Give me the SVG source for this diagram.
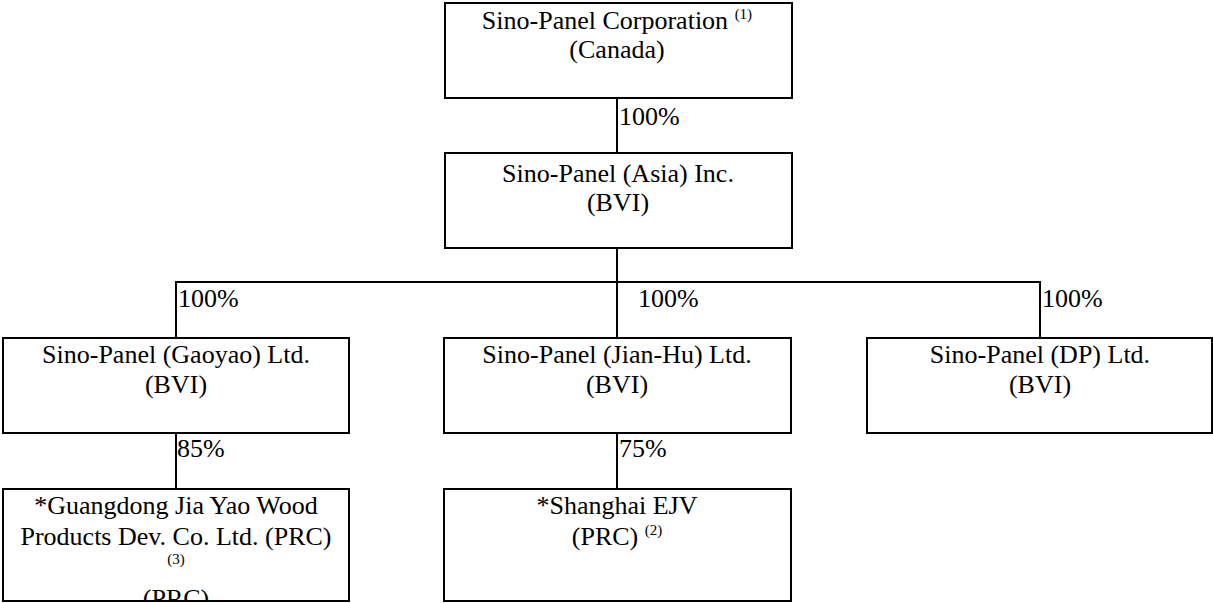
<svg xmlns="http://www.w3.org/2000/svg" width="1213" height="603" viewBox="0 0 1213 603">
<style>
.box{fill:#fff;stroke:#000;stroke-width:2}
.t{font-family:"Liberation Serif","Times New Roman",serif;font-size:26px;fill:#000;text-anchor:middle}
.p{font-family:"Liberation Serif","Times New Roman",serif;font-size:26px;fill:#000}
.sup{font-size:15px}
.c{stroke:#000;stroke-width:2;fill:none}
</style>
<defs>
<clipPath id="clipG"><rect x="3" y="489" width="346" height="111"/></clipPath>
</defs>
<rect width="1213" height="603" fill="#fff"/>
<g id="connectors">
<line class="c" x1="617" y1="98" x2="617" y2="153"/>
<line class="c" x1="617" y1="248" x2="617" y2="338"/>
<polyline class="c" points="176,338 176,282 1040,282 1040,338"/>
<line class="c" x1="176" y1="433" x2="176" y2="489"/>
<line class="c" x1="617" y1="433" x2="617" y2="489"/>
<text class="p" x="619" y="125">100%</text>
<text class="p" x="178" y="307">100%</text>
<text class="p" x="638" y="307">100%</text>
<text class="p" x="1042" y="307">100%</text>
<text class="p" x="177" y="457">85%</text>
<text class="p" x="619" y="457">75%</text>
</g>
<g id="node-canada">
<rect class="box" x="445" y="3" width="347" height="95"/>
<text class="t" x="617" y="29">Sino-Panel Corporation <tspan class="sup" dy="-10">(1)</tspan></text>
<text class="t" x="617" y="58">(Canada)</text>
</g>
<g id="node-asia">
<rect class="box" x="445" y="153" width="347" height="95"/>
<text class="t" x="618" y="182">Sino-Panel (Asia) Inc.</text>
<text class="t" x="618" y="211">(BVI)</text>
</g>
<g id="node-gaoyao">
<rect class="box" x="3" y="338" width="346" height="95"/>
<text class="t" x="176" y="363">Sino-Panel (Gaoyao) Ltd.</text>
<text class="t" x="176" y="393">(BVI)</text>
</g>
<g id="node-jianhu">
<rect class="box" x="444" y="338" width="347" height="95"/>
<text class="t" x="617" y="363">Sino-Panel (Jian-Hu) Ltd.</text>
<text class="t" x="617" y="393">(BVI)</text>
</g>
<g id="node-dp">
<rect class="box" x="867" y="338" width="345" height="95"/>
<text class="t" x="1040" y="363">Sino-Panel (DP) Ltd.</text>
<text class="t" x="1040" y="393">(BVI)</text>
</g>
<g id="node-guangdong">
<rect class="box" x="3" y="489" width="346" height="112"/>
<g clip-path="url(#clipG)">
<text class="t" x="176" y="514">*Guangdong Jia Yao Wood</text>
<text class="t" x="176" y="545">Products Dev. Co. Ltd. (PRC)</text>
<text class="t sup" x="176" y="564">(3)</text>
<text class="t" x="176" y="607">(PRC)</text>
</g>
</g>
<g id="node-shanghai">
<rect class="box" x="444" y="489" width="347" height="112"/>
<text class="t" x="617" y="514">*Shanghai EJV</text>
<text class="t" x="617" y="545">(PRC) <tspan class="sup" dy="-10">(2)</tspan></text>
</g>
</svg>
